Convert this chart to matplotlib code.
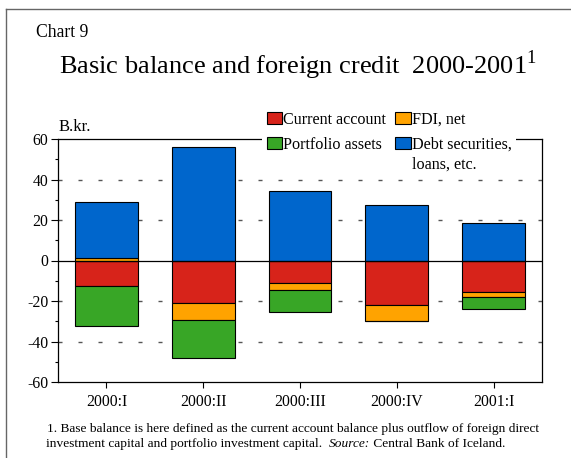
import numpy as np
import matplotlib
matplotlib.use('Agg')
import matplotlib.pyplot as plt
from matplotlib.patches import Patch
from matplotlib.lines import Line2D

plt.rcParams['font.family'] = ['Liberation Serif', 'DejaVu Serif']
plt.rcParams['axes.unicode_minus'] = False

# Data (B.kr.)
quarters = ['2000:I', '2000:II', '2000:III', '2000:IV', '2001:I']
current_account = [-12.4, -21.0, -11.3, -22.0, -15.7]
fdi_net = [1.3, -8.4, -3.3, -7.7, -2.5]
portfolio_assets = [-20.1, -18.9, -10.7, -0.4, -5.9]
debt_securities = [27.4, 55.9, 34.2, 27.4, 18.7]

series = [current_account, fdi_net, portfolio_assets, debt_securities]
labels = ['Current account', 'FDI, net', 'Portfolio assets', 'Debt securities,']
colors = ['#D7231A', '#FFA300', '#38A626', '#0066CC']

W, H = 571, 458
fig = plt.figure(figsize=(W / 100, H / 100), dpi=100)

# axes placed in pixel terms
ax_l, ax_r, ax_t, ax_b = 58, 542, 139, 382
ax = fig.add_axes([ax_l / W, 1 - ax_b / H, (ax_r - ax_l) / W, (ax_b - ax_t) / H])

x = np.arange(len(quarters))
pos_base = np.zeros(len(quarters))
neg_base = np.zeros(len(quarters))
for vals, col in zip(series, colors):
    vals = np.array(vals)
    bottom = np.where(vals >= 0, pos_base, neg_base)
    ax.bar(x, vals, width=0.65, bottom=bottom, color=col, edgecolor='black',
           linewidth=0.8, zorder=3)
    pos_base = pos_base + np.clip(vals, 0, None)
    neg_base = neg_base + np.clip(vals, None, 0)

# dashed grid lines
for yv in [40, 20, -20, -40]:
    ax.axhline(yv, color='#555555', linewidth=1, dashes=(2.9, 11.5), zorder=1)
ax.axhline(0, color='black', linewidth=0.9, zorder=4)

ax.set_xlim(-0.5, len(quarters) - 0.5)
ax.set_ylim(-60, 60)
ax.set_yticks(np.arange(-60, 61, 20))
ax.set_yticks(np.arange(-50, 60, 20), minor=True)
ax.set_xticks(x)
ax.set_xticklabels(quarters)
ax.tick_params(axis='y', which='major', direction='out', length=5, width=0.8,
               labelsize=11.3, pad=2)
ax.tick_params(axis='y', which='minor', direction='out', length=2.5, width=0.8)
ax.tick_params(axis='x', which='major', direction='out', length=4.5, width=0.8,
               labelsize=11.3, pad=4)
for sp in ax.spines.values():
    sp.set_linewidth(0.9)

# legend filled row by row (matplotlib fills columns first)
order = [0, 2, 1, 3]
handles = [Patch(facecolor=colors[i], edgecolor='black', linewidth=0.8) for i in order]
leg = ax.legend(handles, [labels[i] for i in order], ncol=2, loc='upper left',
                bbox_to_anchor=(262 / W, 1 - 107 / H), bbox_transform=fig.transFigure,
                frameon=True, fancybox=False, edgecolor='none', facecolor='white',
                framealpha=1, fontsize=11.6, handlelength=0.95, handleheight=0.75,
                handletextpad=0.05, columnspacing=0.6, labelspacing=0.55,
                borderpad=0.3, borderaxespad=0)
leg.set_zorder(10)

# texts
fig.text(59 / W, 1 - 131 / H, 'B.kr.', fontsize=12, ha='left', va='baseline')
fig.text(36 / W, 1 - 37 / H, 'Chart 9', fontsize=12.7, ha='left', va='baseline')
fig.text(59 / W, 1 - 74 / H, r'Basic balance and foreign credit  2000-2001$^{\mathregular{1}}$',
         fontsize=19, ha='left', va='baseline')
fig.text(47 / W, 1 - 432 / H,
         '1. Base balance is here defined as the current account balance plus outflow of foreign direct',
         fontsize=9.65, ha='left', va='baseline')
t2 = fig.text(46 / W, 1 - 447 / H,
              'investment capital and portfolio investment capital.  ',
              fontsize=9.65, ha='left', va='baseline')
fig.canvas.draw()
bb = t2.get_window_extent()
t3 = fig.text(bb.x1 / W, 1 - 447 / H, 'Source:', fontsize=9.65, style='italic',
              ha='left', va='baseline')
bb3 = t3.get_window_extent()
fig.text(bb3.x1 / W, 1 - 447 / H, ' Central Bank of Iceland.', fontsize=9.65,
         ha='left', va='baseline')

# second line of the last legend label, placed under "Debt securities,"
debt_txt = leg.get_texts()[3]
dbb = debt_txt.get_window_extent()
fig.text(dbb.x0 / W, (dbb.y0 - 20) / H, 'loans, etc.', fontsize=11.6,
         ha='left', va='bottom', zorder=11)

# outer frame (left and top edges)
fig.add_artist(Line2D([6 / W, 6 / W], [0, 1 - 9 / H], transform=fig.transFigure,
                      color='#666666', linewidth=1))
fig.add_artist(Line2D([6 / W, 1], [1 - 9 / H, 1 - 9 / H], transform=fig.transFigure,
                      color='#666666', linewidth=1))

fig.savefig('out.png', dpi=100)
